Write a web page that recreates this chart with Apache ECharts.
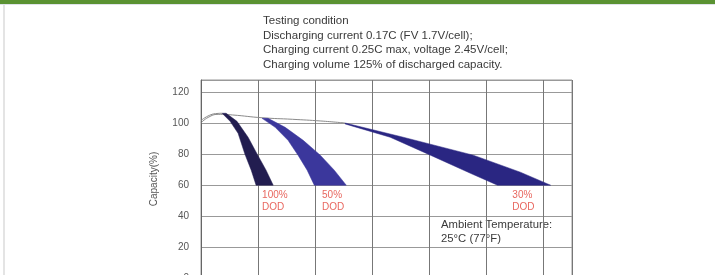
<!DOCTYPE html>
<html>
<head>
<meta charset="utf-8">
<script src="https://cdn.jsdelivr.net/npm/echarts@6/dist/echarts.min.js"></script>
<style>
  html, body { margin: 0; padding: 0; background: #fff; }
  #main { width: 715px; height: 275px; }
</style>
</head>
<body>
<div id="main"></div>
<script>
// 基础数据 (cycles, capacity %)
const yTicks = [0, 20, 40, 60, 80, 100, 120];
const conditionLines = [
  'Testing condition',
  'Discharging current 0.17C (FV 1.7V/cell);',
  'Charging current 0.25C max, voltage 2.45V/cell;',
  'Charging volume 125% of discharged capacity.'
];
const dodNames = ['100%', '50%', '30%'];
const dodLabelX = [214, 424, 1091];

const dod100Left = [[74, 106.5], [102, 101.3], [130, 93.5], [154, 80], [176, 69.7], [193, 60]];
const dod100Right = [[88, 106.5], [126, 101.3], [165, 91], [197, 80], [228, 69.7], [253, 60]];
const dod50Left = [[214, 103.2], [260, 97.4], [305, 89], [340, 79.4], [372, 69.7], [397, 60]];
const dod50Right = [[235, 103.2], [295, 97.4], [358, 89], [418, 79.4], [467, 69.7], [509, 60]];
const dod30Top = [[505, 100.2], [698, 91.5], [954, 79.4], [1119, 68.4], [1225, 60]];
const dod30Bottom = [[505, 99.6], [663, 91], [804, 79.4], [944, 67.7], [1039, 60]];

const thinLineA = [[0, 100.3], [25, 103.8], [60, 105.8], [110, 105.4], [214, 103.6], [320, 102.6], [420, 101.5], [505, 100.2]];
const thinLineB = [[0, 101.8], [30, 105.2], [60, 106.4], [74, 106.5]];

const bandColors = ['#221d50', '#3b379c', '#2a2682'];
const bands = [
  dod100Left.concat(dod100Right.slice().reverse()),
  dod50Left.concat(dod50Right.slice().reverse()),
  dod30Top.concat(dod30Bottom.slice().reverse())
];

const myChart = echarts.init(document.getElementById('main'));
const font = '"Liberation Sans", Arial, sans-serif';

const option = {
  backgroundColor: '#fff',
  animation: false,
  textStyle: { fontFamily: font },
  graphic: [
    { type: 'rect', left: 0, top: 0, shape: { width: 715, height: 4 }, style: { fill: '#5a9232' } },
    { type: 'rect', left: 0, top: 4, shape: { width: 715, height: 1 }, style: { fill: '#dfe3ea' } },
    { type: 'rect', left: 3, top: 5, shape: { width: 2, height: 270 }, style: { fill: '#e4e4e4' } },
    {
      type: 'text', left: 263, top: 14,
      style: { text: conditionLines.join('\n'), font: '11.5px ' + font, fill: '#3a3a3a', lineHeight: 14.5 }
    },
    {
      type: 'text', left: 441, top: 218,
      style: { text: 'Ambient Temperature:\n25°C (77°F)', font: '11.3px ' + font, fill: '#3a3a3a', lineHeight: 14 }
    }
  ],
  grid: {
    left: 201, top: 80, width: 371, height: 198,
    outerBoundsMode: 'none', containLabel: false,
    show: true, borderColor: '#999', borderWidth: 1
  },
  xAxis: {
    type: 'value', min: 0, max: 1300, interval: 200,
    axisLine: { show: true, lineStyle: { color: '#666' } },
    axisTick: { show: false },
    axisLabel: { show: false },
    splitLine: { show: true, lineStyle: { color: '#777', width: 1 } }
  },
  yAxis: {
    type: 'value', min: 0, max: 128, interval: 20,
    name: 'Capacity(%)', nameLocation: 'middle', nameGap: 42, nameRotate: 90,
    nameTextStyle: { fontSize: 10, color: '#555' },
    axisLine: { show: true, lineStyle: { color: '#666' } },
    axisTick: { show: false },
    axisLabel: {
      fontSize: 10, color: '#555', margin: 12,
      formatter: v => (yTicks.indexOf(v) >= 0 ? String(v) : '')
    },
    splitLine: { show: true, lineStyle: { color: '#999', width: 1 } }
  },
  series: [
    {
      type: 'line', data: thinLineA, smooth: true, symbol: 'none',
      lineStyle: { color: '#8a8a8a', width: 1 }, z: 3
    },
    {
      type: 'line', data: thinLineB, smooth: true, symbol: 'none',
      lineStyle: { color: '#8a8a8a', width: 1 }, z: 3
    },
    {
      type: 'custom',
      data: [0, 1, 2],
      z: 4,
      renderItem: (params, api) => {
        const i = api.value(0);
        const pts = bands[i].map(p => api.coord(p));
        const lp = api.coord([dodLabelX[i], 60]);
        return {
          type: 'group',
          children: [
            {
              type: 'polygon',
              shape: { points: pts },
              style: { fill: bandColors[i], stroke: bandColors[i], lineWidth: 0.5 }
            },
            {
              type: 'text',
              x: lp[0], y: lp[1] + 4,
              style: {
                text: dodNames[i] + '\nDOD', fill: '#e8675f',
                font: '10px ' + font, lineHeight: 12
              }
            }
          ]
        };
      }
    }
  ]
};

myChart.setOption(option);
</script>
</body>
</html>
